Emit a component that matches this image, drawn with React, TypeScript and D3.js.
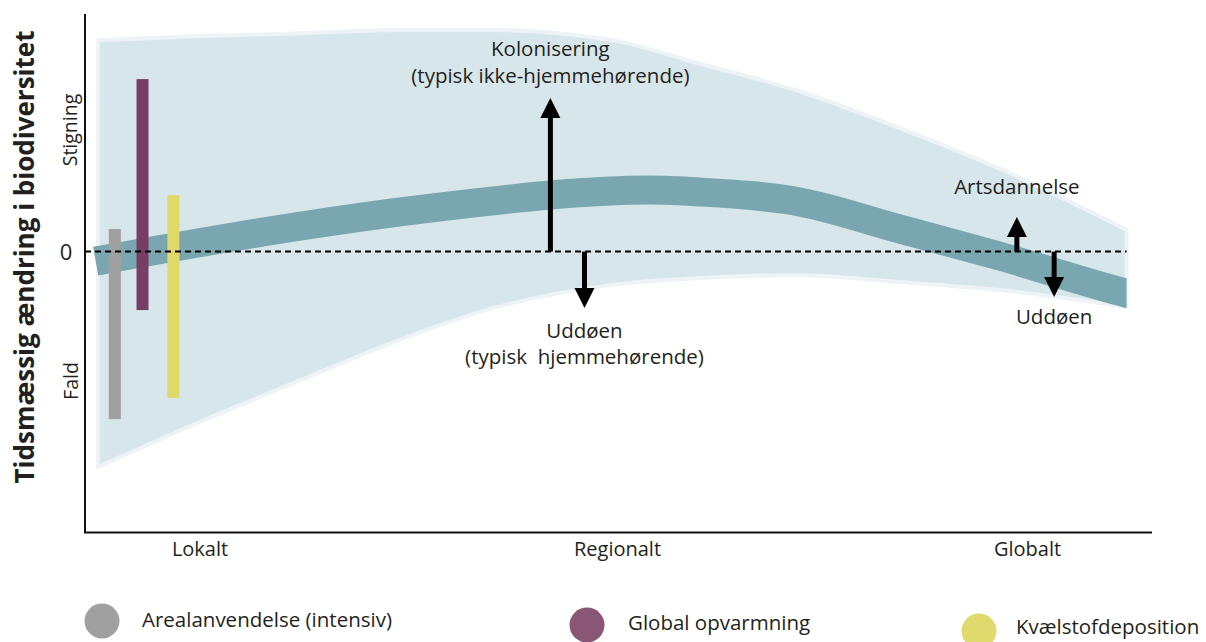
import * as d3 from 'd3';

// spatial scale of the observation (x) and temporal change in biodiversity (y, 0 = no change)
const scaleLabels = ['Lokalt', 'Regionalt', 'Globalt'];
const scalePositions = [10.8, 50, 88.5];

// outer envelope of possible change
const envelopeX = [1.2, 11, 21, 29.5, 38, 49.5, 57.5, 67, 76.5, 86, 97.8];
const envelopeUpper = [89, 90.7, 92, 93.3, 93.3, 89, 79.4, 67.6, 52, 34.7, 9.1];
const envelopeLower = [-90.7, -71.3, -52.7, -37.2, -24.2, -14, -11.2, -9.9, -12.8, -16.2, -23.3];

// typical net trend
const trendX = [1, 20.9, 29.6, 39, 43.7, 53, 57.7, 67.1, 76.5, 85.9, 97.8, 100];
const trendY = [-4, 11.2, 16.7, 21.7, 23.8, 25.9, 25.1, 20.9, 9.5, -1.9, -17.5, -20];

// local drivers, range of effect
const driverNames = ['Arealanvendelse (intensiv)', 'Global opvarmning', 'Kvælstofdeposition'];
const driverX = [2.8, 5.4, 8.3];
const driverHigh = [9.5, 72.6, 23.8];
const driverLow = [-70.5, -24.6, -61.6];
const driverColors = ['#a0a0a0', '#773d64', '#e0d96a'];
const legendColors = ['#a0a0a0', '#8a5676', '#e0d96e'];

// processes
const arrowLines = [
  ['Kolonisering', '(typisk ikke-hjemmehørende)'],
  ['Uddøen', '(typisk  hjemmehørende)'],
  ['Artsdannelse'],
  ['Uddøen'],
];
const arrowX = [43.7, 46.9, 87.5, 91.0];
const arrowTip = [64.6, -23.7, 14.6, -19.1];

const W = 1206;
const H = 642;
const FONT = '"Open Sans", "Noto Sans", sans-serif';
const TEXT = '#231f20';

export default function App() {
  const x = d3.scaleLinear().domain([0, 100]).range([85, 1150]);
  const y = d3.scaleLinear().domain([-118, 100]).range([532, 14]);

  const envelope = d3
    .area<number>()
    .x((_, i) => x(envelopeX[i]))
    .y0((_, i) => y(envelopeLower[i]))
    .y1((_, i) => y(envelopeUpper[i]))
    .curve(d3.curveMonotoneX)(envelopeX);

  const trend = d3
    .line<number>()
    .x((_, i) => x(trendX[i]))
    .y((d) => y(d))
    .curve(d3.curveMonotoneX)(trendY);

  const y0 = y(0);
  const head = 20;

  // label offsets from the arrow tip
  const labelOffsets = [[-42, -15], [30, 56], [-23], [27]];
  const legendPos = [
    { cx: 102, cy: 621, tx: 142, ty: 627 },
    { cx: 587, cy: 625, tx: 628, ty: 630 },
    { cx: 979, cy: 631, tx: 1016, ty: 634 },
  ];

  return (
    <svg width={W} height={H} style={{ position: 'absolute', left: 0, top: 0, fontFamily: FONT }}>
      <defs>
        <clipPath id="trendClip">
          <rect x={0} y={0} width={x(97.8)} height={H} />
        </clipPath>
      </defs>

      <path d={envelope ?? ''} fill="#d7e6eb" stroke="#eef3f8" strokeWidth={4} strokeLinejoin="round" />

      <path
        d={trend ?? ''}
        fill="none"
        stroke="#7aa7af"
        strokeWidth={29}
        clipPath="url(#trendClip)"
      />

      {driverX.map((d, i) => (
        <rect
          key={driverNames[i]}
          x={x(d) - 6}
          width={12}
          y={y(driverHigh[i])}
          height={y(driverLow[i]) - y(driverHigh[i])}
          fill={driverColors[i]}
        />
      ))}

      <line x1={x(0)} x2={x(97.8)} y1={y0} y2={y0} stroke="#000" strokeWidth={2} strokeDasharray="6,4" />

      {arrowX.map((a, i) => {
        const ax = x(a);
        const tip = y(arrowTip[i]);
        const dir = tip < y0 ? 1 : -1;
        return (
          <g key={i}>
            <line x1={ax} x2={ax} y1={y0} y2={tip + dir * (head - 2)} stroke="#000" strokeWidth={5} />
            <path
              d={`M${ax},${tip}L${ax - 10},${tip + dir * head}L${ax + 10},${tip + dir * head}Z`}
              fill="#000"
            />
            {arrowLines[i].map((t, j) => (
              <text
                key={j}
                x={ax}
                y={tip + labelOffsets[i][j]}
                textAnchor="middle"
                fontSize={20.5}
                fill={TEXT}
                style={{ whiteSpace: 'pre' }}
              >
                {t}
              </text>
            ))}
          </g>
        );
      })}

      <line x1={x(0)} x2={x(0)} y1={14} y2={533} stroke="#111" strokeWidth={2} />
      <line x1={x(0) - 1} x2={x(100) + 2} y1={532.5} y2={532.5} stroke="#111" strokeWidth={2} />

      {scaleLabels.map((s, i) => (
        <text key={s} x={x(scalePositions[i])} y={556} textAnchor="middle" fontSize={20} fill={TEXT}>
          {s}
        </text>
      ))}

      <text x={66} y={y0 + 8} textAnchor="middle" fontSize={22} fill={TEXT}>
        0
      </text>
      <text transform={`translate(77,130) rotate(-90)`} textAnchor="middle" fontSize={19.5} fill={TEXT}>
        Stigning
      </text>
      <text transform={`translate(78,381) rotate(-90)`} textAnchor="middle" fontSize={19.5} fill={TEXT}>
        Fald
      </text>
      <text
        transform={`translate(34,257) rotate(-90)`}
        textAnchor="middle"
        fontSize={26}
        fontWeight="bold"
        fill={TEXT}
      >
        Tidsmæssig ændring i biodiversitet
      </text>

      {driverNames.map((n, i) => (
        <g key={n}>
          <circle cx={legendPos[i].cx} cy={legendPos[i].cy} r={17.5} fill={legendColors[i]} />
          <text x={legendPos[i].tx} y={legendPos[i].ty} fontSize={20.5} fill={TEXT}>
            {n}
          </text>
        </g>
      ))}
    </svg>
  );
}
